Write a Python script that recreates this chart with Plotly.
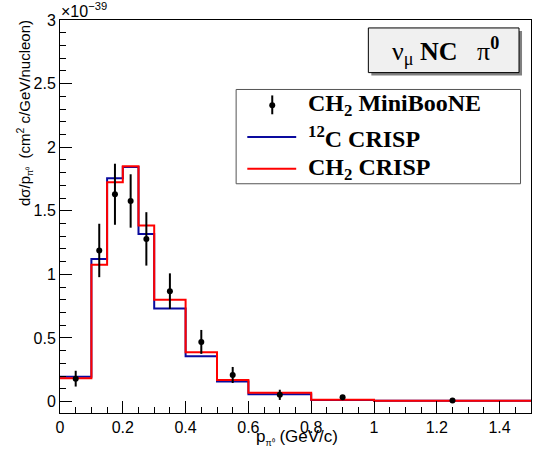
import plotly.graph_objects as go

# ---------------- data (cross section in units of 1e-39) ----------------
bin_edges = [0, 0.1, 0.15, 0.2, 0.25, 0.3, 0.4, 0.5, 0.6, 0.8, 1.0, 1.5]
c12_crisp = [0.196, 1.12, 1.756, 1.845, 1.318, 0.731, 0.357, 0.157, 0.058, 0.012, 0.006]
ch2_crisp = [0.183, 1.076, 1.725, 1.85, 1.385, 0.80, 0.388, 0.170, 0.069, 0.015, 0.006]

data_x = [0.05, 0.125, 0.175, 0.225, 0.275, 0.35, 0.45, 0.55, 0.7, 0.9, 1.25]
data_y = [0.180, 1.188, 1.630, 1.577, 1.279, 0.868, 0.469, 0.209, 0.053, 0.033, 0.009]
data_err = [0.062, 0.21, 0.24, 0.21, 0.21, 0.14, 0.094, 0.063, 0.04, 0.01, 0.004]

x_tickvals = [0, 0.2, 0.4, 0.6, 0.8, 1.0, 1.2, 1.4]
x_ticktext = ["0", "0.2", "0.4", "0.6", "0.8", "1", "1.2", "1.4"]
y_tickvals = [0, 0.5, 1, 1.5, 2, 2.5, 3]
y_ticktext = ["0", "0.5", "1", "1.5", "2", "2.5", "3"]

legend_labels = ["CH<sub>2</sub> MiniBooNE", "<sup>12</sup>C CRISP", "CH<sub>2</sub> CRISP"]

BLUE = "#0a0a9e"
RED = "#ff0000"

W, H = 544, 460
ML, MR, MT, MB = 60, 12, 17, 47
PW, PH = W - ML - MR, H - MT - MB


def px(x):
    return (x - ML) / PW


def py(y):
    return (H - MB - y) / PH


fig = go.Figure()

fig.add_trace(go.Scatter(
    x=bin_edges, y=c12_crisp + [c12_crisp[-1]], mode="lines",
    line=dict(color=BLUE, width=2, shape="hv"), showlegend=False, hoverinfo="skip"))
fig.add_trace(go.Scatter(
    x=bin_edges, y=ch2_crisp + [ch2_crisp[-1]], mode="lines",
    line=dict(color=RED, width=2, shape="hv"), showlegend=False, hoverinfo="skip"))
fig.add_trace(go.Scatter(
    x=data_x, y=data_y, mode="markers",
    marker=dict(color="black", size=6, symbol="circle"),
    error_y=dict(type="data", array=data_err, visible=True, color="black", thickness=2, width=0),
    showlegend=False))

axis_common = dict(
    showgrid=False, zeroline=False, showline=True, linecolor="black", linewidth=1,
    mirror=True, ticks="inside", tickcolor="black", tickwidth=1, ticklen=12,
    tickfont=dict(family="Liberation Sans, Arial", size=16, color="black"),
)

fig.update_xaxes(range=[0, 1.5], tickvals=x_tickvals, ticktext=x_ticktext,
                 minor=dict(ticks="inside", ticklen=6, dtick=0.05, tick0=0, tickcolor="black"),
                 **axis_common)
fig.update_yaxes(range=[-0.09, 3.0], tickvals=y_tickvals, ticktext=y_ticktext,
                 minor=dict(ticks="inside", ticklen=6, dtick=0.1, tick0=0, tickcolor="black"),
                 **axis_common)

shapes = []
annotations = []

# title pave with shadow
shapes.append(dict(type="rect", xref="paper", yref="paper", x0=px(372), x1=px(523), y0=py(73), y1=py(28),
                   fillcolor="#808080", line=dict(width=0), layer="above"))
shapes.append(dict(type="rect", xref="paper", yref="paper", x0=px(369), x1=px(520), y0=py(70), y1=py(25),
                   fillcolor="#f0f0f0", line=dict(color="black", width=1), layer="above"))
annotations.append(dict(xref="paper", yref="paper", x=px(446), y=py(48), xanchor="center", yanchor="middle",
                        text="ν<sub>μ</sub> <b>NC</b>   π<sup><b>0</b></sup>", showarrow=False,
                        font=dict(family="Liberation Serif, Times New Roman", size=26, color="black")))

# legend box
shapes.append(dict(type="rect", xref="paper", yref="paper", x0=px(236.5), x1=px(521.5), y0=py(182), y1=py(87),
                   fillcolor="white", line=dict(color="#555555", width=1), layer="above"))
row_y = [102.8, 134.8, 167.0]
# data entry: error bar + dot
shapes.append(dict(type="line", xref="paper", yref="paper", x0=px(272.7), x1=px(272.7), y0=py(93), y1=py(112),
                   line=dict(color="black", width=2), layer="above"))
shapes.append(dict(type="circle", xref="paper", yref="paper", x0=px(269.7), x1=px(275.7), y0=py(105.8), y1=py(99.8),
                   fillcolor="black", line=dict(color="black", width=0), layer="above"))
shapes.append(dict(type="line", xref="paper", yref="paper", x0=px(247.7), x1=px(296.7), y0=py(row_y[1]), y1=py(row_y[1]),
                   line=dict(color=BLUE, width=2), layer="above"))
shapes.append(dict(type="line", xref="paper", yref="paper", x0=px(247.7), x1=px(296.7), y0=py(row_y[2]), y1=py(row_y[2]),
                   line=dict(color=RED, width=2), layer="above"))
for lab, yy in zip(legend_labels, row_y):
    annotations.append(dict(xref="paper", yref="paper", x=px(307), y=py(yy), xanchor="left", yanchor="middle",
                            text="<b>" + lab + "</b>", showarrow=False,
                            font=dict(family="Liberation Serif, Times New Roman", size=24, color="black")))

# exponent label
annotations.append(dict(xref="paper", yref="paper", x=px(59), y=py(19), xanchor="left", yanchor="bottom",
                        text="×10<sup>−39</sup>", showarrow=False,
                        font=dict(family="Liberation Sans, Arial", size=16, color="black")))

# y title
annotations.append(dict(xref="paper", yref="paper", x=px(24), y=py(15), xanchor="center", yanchor="top",
                        textangle=-90,
                        text="dσ/p<sub><span style='font-size:9px'>π⁰</span></sub>  (cm<sup>2</sup> c/GeV/nucleon)",
                        showarrow=False,
                        font=dict(family="Liberation Sans, Arial", size=15, color="black")))
# x title
annotations.append(dict(xref="paper", yref="paper", x=px(341), y=py(438), xanchor="right", yanchor="middle",
                        text="p<sub><span style='font-size:9px'>π⁰</span></sub> (GeV/c)",
                        showarrow=False,
                        font=dict(family="Liberation Sans, Arial", size=17, color="black")))

fig.update_layout(
    width=W, height=H, margin=dict(l=ML, r=MR, t=MT, b=MB),
    paper_bgcolor="white", plot_bgcolor="white", showlegend=False,
    shapes=shapes, annotations=annotations,
)

fig.write_html("out.html")
